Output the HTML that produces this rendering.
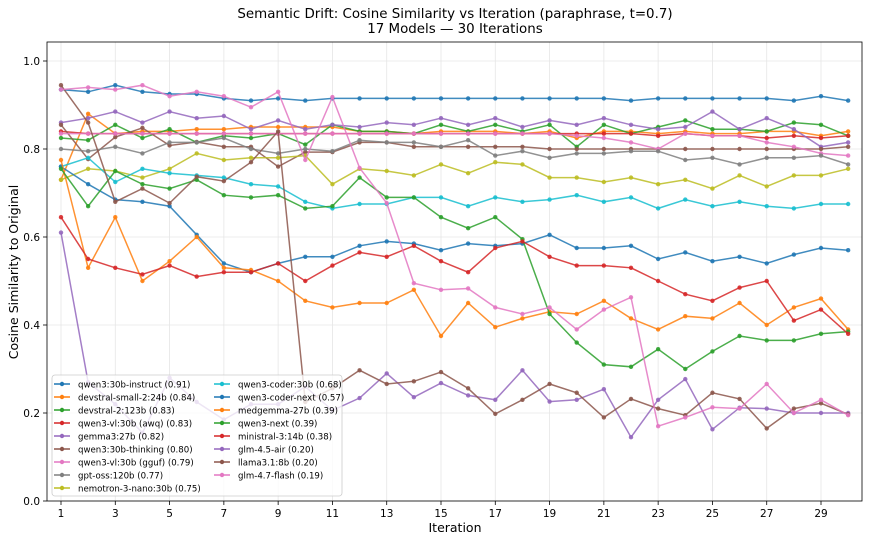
<!DOCTYPE html>
<html><head><meta charset="utf-8"><style>
body{margin:0;background:#fff;}
svg{display:block;font-family:"DejaVu Sans","Liberation Sans",sans-serif;}
</style></head><body>
<svg id="s" width="869" height="542" viewBox="0 0 869 542" xmlns="http://www.w3.org/2000/svg">
<rect width="869" height="542" fill="#fff"/>
<text x="455" y="18" font-size="13.4" text-anchor="middle">Semantic Drift: Cosine Similarity vs Iteration (paraphrase, t=0.7)</text>
<text x="455" y="33" font-size="13.4" text-anchor="middle">17 Models — 30 Iterations</text>
<text x="455" y="532" font-size="12.5" text-anchor="middle">Iteration</text>
<text transform="translate(18,272) rotate(-90)" font-size="12.5" text-anchor="middle">Cosine Similarity to Original</text>
<g id="grid"></g>
<g id="series"></g>
<rect x="47" y="42" width="815" height="459" fill="none" stroke="#000" stroke-width="0.8"/>
<g id="legend"></g>
</svg>
<script>
const X=i=>61+(i-1)*27.143, Y=v=>501-v*440;
const ns="http://www.w3.org/2000/svg";
function el(p,t,a,txt){const e=document.createElementNS(ns,t);for(const k in a)e.setAttribute(k,a[k]);if(txt!=null)e.textContent=txt;p.appendChild(e);return e;}
const s=document.getElementById('s'),g=document.getElementById('grid'),sr=document.getElementById('series'),lg=document.getElementById('legend');
for(let v=0;v<=1.001;v+=0.2){const y=Y(v);el(g,'line',{x1:47,x2:862,y1:y,y2:y,stroke:'#e6e6e6','stroke-width':0.8});el(g,'line',{x1:43,x2:47,y1:y,y2:y,stroke:'#000','stroke-width':0.8});el(g,'text',{x:40,y:y+4,'font-size':10.5,'text-anchor':'end'},v.toFixed(1));}
for(let i=1;i<=29;i+=2){const x=X(i);el(g,'line',{x1:x,x2:x,y1:42,y2:501,stroke:'#e6e6e6','stroke-width':0.8});el(g,'line',{x1:x,x2:x,y1:501,y2:505,stroke:'#000','stroke-width':0.8});el(g,'text',{x:x,y:517,'font-size':10.5,'text-anchor':'middle'},String(i));}
const S=[
["qwen3:30b-instruct (0.91)","#1f77b4",[0.935,0.93,0.945,0.93,0.925,0.925,0.915,0.91,0.915,0.91,0.915,0.915,0.915,0.915,0.915,0.915,0.915,0.915,0.915,0.915,0.915,0.91,0.915,0.915,0.915,0.915,0.915,0.91,0.92,0.91]],
["devstral-small-2:24b (0.84)","#ff7f0e",[0.73,0.88,0.835,0.84,0.84,0.845,0.845,0.85,0.85,0.85,0.85,0.84,0.84,0.835,0.84,0.84,0.84,0.835,0.84,0.825,0.84,0.84,0.835,0.84,0.835,0.835,0.84,0.84,0.83,0.84]],
["devstral-2:123b (0.83)","#2ca02c",[0.825,0.82,0.855,0.825,0.845,0.815,0.83,0.825,0.835,0.81,0.855,0.84,0.84,0.835,0.855,0.84,0.855,0.84,0.855,0.805,0.855,0.835,0.85,0.865,0.845,0.845,0.84,0.86,0.855,0.83]],
["qwen3-vl:30b (awq) (0.83)","#d62728",[0.84,0.835,0.835,0.835,0.835,0.835,0.835,0.835,0.835,0.835,0.835,0.835,0.835,0.835,0.835,0.835,0.835,0.835,0.835,0.835,0.835,0.835,0.83,0.835,0.83,0.83,0.825,0.83,0.825,0.83]],
["gemma3:27b (0.82)","#9467bd",[0.86,0.87,0.885,0.86,0.885,0.87,0.875,0.845,0.865,0.845,0.855,0.85,0.86,0.855,0.87,0.855,0.87,0.85,0.865,0.855,0.87,0.855,0.845,0.85,0.885,0.845,0.87,0.845,0.805,0.815]],
["qwen3:30b-thinking (0.80)","#8c564b",[0.855,0.777,0.827,0.848,0.808,0.816,0.805,0.805,0.76,0.793,0.793,0.815,0.815,0.805,0.805,0.805,0.805,0.805,0.8,0.8,0.8,0.8,0.8,0.8,0.8,0.8,0.8,0.8,0.8,0.805]],
["qwen3-vl:30b (gguf) (0.79)","#e377c2",[0.835,0.835,0.835,0.835,0.835,0.835,0.835,0.835,0.835,0.835,0.835,0.835,0.835,0.835,0.835,0.835,0.835,0.835,0.835,0.83,0.825,0.815,0.8,0.835,0.83,0.83,0.815,0.805,0.79,0.785]],
["gpt-oss:120b (0.77)","#7f7f7f",[0.80,0.795,0.805,0.79,0.815,0.815,0.825,0.80,0.79,0.80,0.795,0.82,0.815,0.815,0.805,0.82,0.785,0.795,0.78,0.79,0.79,0.795,0.795,0.775,0.78,0.765,0.78,0.78,0.785,0.765]],
["nemotron-3-nano:30b (0.75)","#bcbd22",[0.73,0.755,0.75,0.735,0.755,0.79,0.775,0.78,0.78,0.785,0.72,0.755,0.75,0.74,0.765,0.745,0.77,0.765,0.735,0.735,0.725,0.735,0.72,0.73,0.71,0.74,0.715,0.74,0.74,0.755]],
["qwen3-coder:30b (0.68)","#17becf",[0.76,0.78,0.725,0.755,0.745,0.74,0.735,0.72,0.715,0.68,0.665,0.675,0.675,0.69,0.69,0.67,0.69,0.68,0.685,0.695,0.68,0.69,0.665,0.685,0.67,0.68,0.67,0.665,0.675,0.675]],
["qwen3-coder-next (0.57)","#1f77b4",[0.76,0.72,0.685,0.68,0.67,0.605,0.54,0.52,0.54,0.555,0.555,0.58,0.59,0.585,0.57,0.585,0.58,0.585,0.605,0.575,0.575,0.58,0.55,0.565,0.545,0.555,0.54,0.56,0.575,0.57]],
["medgemma-27b (0.39)","#ff7f0e",[0.775,0.53,0.645,0.50,0.545,0.60,0.53,0.525,0.50,0.455,0.44,0.45,0.45,0.48,0.375,0.45,0.395,0.415,0.43,0.425,0.455,0.415,0.39,0.42,0.415,0.45,0.4,0.44,0.46,0.39]],
["qwen3-next (0.39)","#2ca02c",[0.755,0.67,0.75,0.72,0.71,0.73,0.695,0.69,0.695,0.665,0.67,0.735,0.69,0.69,0.645,0.62,0.645,0.595,0.425,0.36,0.31,0.305,0.345,0.3,0.34,0.375,0.365,0.365,0.38,0.385]],
["ministral-3:14b (0.38)","#d62728",[0.645,0.55,0.53,0.515,0.535,0.51,0.52,0.52,0.54,0.5,0.535,0.565,0.555,0.58,0.545,0.52,0.575,0.59,0.555,0.535,0.535,0.53,0.5,0.47,0.455,0.485,0.5,0.41,0.435,0.38]],
["glm-4.5-air (0.20)","#9467bd",[0.61,0.27,0.22,0.155,0.28,0.225,0.185,0.22,0.22,0.26,0.206,0.234,0.29,0.236,0.268,0.24,0.23,0.297,0.226,0.23,0.254,0.145,0.23,0.277,0.163,0.212,0.21,0.2,0.2,0.2]],
["llama3.1:8b (0.20)","#8c564b",[0.945,0.86,0.68,0.71,0.677,0.737,0.727,0.77,0.84,0.225,0.256,0.297,0.266,0.272,0.293,0.256,0.198,0.23,0.266,0.246,0.19,0.232,0.21,0.195,0.246,0.232,0.165,0.21,0.222,0.197]],
["glm-4.7-flash (0.19)","#e377c2",[0.935,0.94,0.935,0.945,0.92,0.93,0.92,0.895,0.93,0.775,0.918,0.757,0.677,0.495,0.48,0.483,0.44,0.425,0.44,0.39,0.435,0.463,0.17,0.19,0.213,0.21,0.266,0.2,0.23,0.195]]
];
S.forEach(([n,c,d])=>{const pts=d.map((v,i)=>X(i+1).toFixed(1)+","+Y(v).toFixed(1)).join(" ");
el(sr,'polyline',{points:pts,fill:'none',stroke:c,'stroke-width':1.5,'stroke-opacity':0.85});
d.forEach((v,i)=>el(sr,'circle',{cx:X(i+1),cy:Y(v),r:2.2,fill:c,'fill-opacity':0.9}));});
el(lg,'rect',{x:52,y:375,width:290,height:121,rx:3,fill:'#fff','fill-opacity':0.8,stroke:'#ccc','stroke-width':0.8});
S.forEach(([n,c],k)=>{const col=k<9?0:1,row=k<9?k:k-9;const x0=col?214:54,y=384+row*13.0;
el(lg,'line',{x1:x0,x2:x0+16,y1:y,y2:y,stroke:c,'stroke-width':1.5});el(lg,'circle',{cx:x0+8,cy:y,r:2.2,fill:c});
el(lg,'text',{x:x0+24,y:y+3.3,'font-size':8.6,textLength:null},n);});
</script>
</body></html>
